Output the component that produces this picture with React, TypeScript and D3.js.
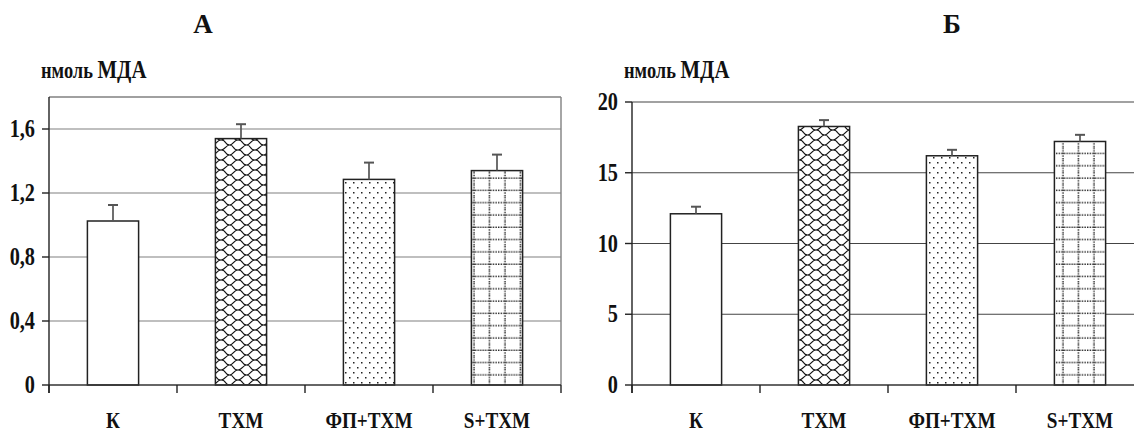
import React from 'react';
import * as d3 from 'd3';

// groups on the x axis (same for both panels)
const categories = ['К', 'ТХМ', 'ФП+ТХМ', 'S+ТХМ'];

// panel A
const valuesA = [1.025, 1.54, 1.285, 1.34];
const errorsA = [0.1, 0.09, 0.105, 0.1];
const ticksA = [0, 0.4, 0.8, 1.2, 1.6];
const tickLabelsA = ['0', '0,4', '0,8', '1,2', '1,6'];

// panel B
const valuesB = [12.1, 18.27, 16.2, 17.21];
const errorsB = [0.5, 0.45, 0.42, 0.47];
const ticksB = [0, 5, 10, 15, 20];
const tickLabelsB = ['0', '5', '10', '15', '20'];

const fills = ['#fff', 'url(#scales)', 'url(#dots)', 'url(#dotgrid)'];
const FONT = '"Liberation Serif", "Times New Roman", serif';

// narrow bold serif like the original print
const Cond = ({ x, y, anchor = 'middle', size = 21, sx = 0.84, children }: any) => (
  <text
    transform={`translate(${x},${y}) scale(${sx},1)`}
    textAnchor={anchor}
    fontFamily={FONT}
    fontWeight="bold"
    fontSize={size}
    fill="#111"
  >
    {children}
  </text>
);

const Panel = ({ x0, x1, yTop, yMax, values, errors, ticks, tickLabels, gridColor, border, title, titleX }: any) => {
  const x = d3.scaleBand().domain(categories).range([x0, x1]).paddingInner(0.6).paddingOuter(0.3);
  const y = d3.scaleLinear().domain([0, yMax]).range([385, yTop]);
  const step = x.step();
  const bounds = d3.range(categories.length + 1).map(i => x0 + i * step);
  return (
    <g>
      <text x={titleX} y={33} textAnchor="middle" fontFamily={FONT} fontWeight="bold" fontSize={27} fill="#111">
        {title}
      </text>
      <text transform={`translate(${x0 - 8},78) scale(0.8,1)`} fontFamily={FONT} fontWeight="bold" fill="#111">
        <tspan fontSize={23}>нмоль </tspan>
        <tspan fontSize={26}>МДА</tspan>
      </text>

      {/* gridlines */}
      {ticks.filter((t: number) => t > 0).map((t: number) => (
        <line key={t} x1={x0} x2={x1} y1={y(t)} y2={y(t)} stroke={gridColor} strokeWidth={1.2} />
      ))}
      {border && (
        <g stroke="#808080" strokeWidth={1.4} fill="none">
          <line x1={x0} x2={x1} y1={y(yMax)} y2={y(yMax)} />
          <line x1={x1} x2={x1} y1={y(yMax)} y2={y(0)} />
        </g>
      )}

      {/* bars */}
      {values.map((v: number, i: number) => {
        const c = categories[i];
        const bx = x(c)!;
        const bw = x.bandwidth();
        const cx = bx + bw / 2;
        return (
          <g key={c}>
            <rect x={bx} y={y(v)} width={bw} height={y(0) - y(v)} fill={fills[i]} stroke="#222" strokeWidth={1.5} />
            <line x1={cx} x2={cx} y1={y(v)} y2={y(v + errors[i])} stroke="#555" strokeWidth={1.7} />
            <line x1={cx - 5} x2={cx + 5} y1={y(v + errors[i])} y2={y(v + errors[i])} stroke="#555" strokeWidth={2} />
          </g>
        );
      })}

      {/* axes */}
      <line x1={x0} x2={x1} y1={y(0)} y2={y(0)} stroke="#333" strokeWidth={1.5} />
      <line x1={x0} x2={x0} y1={y(yMax)} y2={y(0) + 8} stroke="#222" strokeWidth={1.4} />
      {bounds.map((b: number) => (
        <line key={b} x1={b} x2={b} y1={y(0)} y2={y(0) + 8} stroke="#222" strokeWidth={1.4} />
      ))}
      {ticks.map((t: number, i: number) => (
        <g key={t}>
          <line x1={x0 - 7} x2={x0} y1={y(t)} y2={y(t)} stroke="#222" strokeWidth={1.4} />
          <Cond x={x0 - 14} y={y(t) + 8} anchor="end" size={26} sx={0.78}>{tickLabels[i]}</Cond>
        </g>
      ))}
      {categories.map(c => (
        <Cond key={c} x={x(c)! + x.bandwidth() / 2} y={428} size={24} sx={0.8}>{c}</Cond>
      ))}
    </g>
  );
};

export default function App() {
  return (
    <svg width={1134} height={435} style={{ display: 'block', position: 'absolute', left: 0, top: 0, background: '#fff' }}>
      <defs>
        <pattern id="scales" width={17} height={10} patternUnits="userSpaceOnUse">
          <rect width={17} height={10} fill="#fff" />
          <path
            d="M0,0 C6,0 3,5 8.5,5 C14,5 11,10 17,10 M8.5,5 C12,5 13,0 17,0 M0,10 C4,10 5,5 8.5,5"
            fill="none"
            stroke="#111"
            strokeWidth={1.2}
          />
        </pattern>
        <pattern id="dots" width={8} height={10} patternUnits="userSpaceOnUse">
          <rect width={8} height={10} fill="#fff" />
          <rect x={1} y={2} width={1.5} height={1.5} fill="#222" />
          <rect x={5} y={7} width={1.5} height={1.5} fill="#222" />
        </pattern>
        <pattern id="dotgrid" width={15.5} height={12.3} patternUnits="userSpaceOnUse" x={2} y={0}>
          <rect width={15.5} height={12.3} fill="#fff" />
          <line x1={0} x2={15.5} y1={6} y2={6} stroke="#222" strokeWidth={1.4} strokeDasharray="1.4,1.2" />
          <line x1={7} x2={7} y1={0} y2={12.3} stroke="#222" strokeWidth={1.4} strokeDasharray="1.4,1.2" />
        </pattern>
      </defs>
      <Panel x0={49} x1={561} yTop={97} yMax={1.8} values={valuesA} errors={errorsA} ticks={ticksA}
        tickLabels={tickLabelsA} gridColor="#808080" border title="А" titleX={203} />
      <Panel x0={632} x1={1144} yTop={102} yMax={20} values={valuesB} errors={errorsB} ticks={ticksB}
        tickLabels={tickLabelsB} gridColor="#444" border={false} title="Б" titleX={952} />
    </svg>
  );
}
